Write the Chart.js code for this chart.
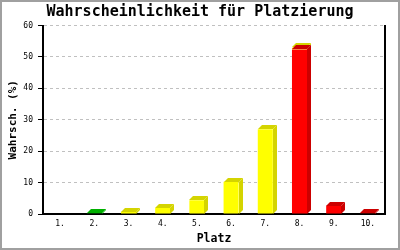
<!DOCTYPE html>
<html>
<head>
<meta charset="utf-8">
<script src="https://cdn.jsdelivr.net/npm/chart.js@4/dist/chart.umd.min.js"></script>
<style>
  body { margin: 0; background: #fff; }
</style>
</head>
<body>
<canvas id="chart" width="400" height="250"></canvas>
<script>
const platzLabels = ['1.', '2.', '3.', '4.', '5.', '6.', '7.', '8.', '9.', '10.'];
const wahrscheinlichkeit = [0, 0.2, 0.7, 1.9, 4.4, 10.3, 27.0, 52.4, 2.6, 0.2];
const aufsatz = [0, 0, 0, 0, 0, 0, 0, 0.6, 0, 0];
const barColors = ['#00cc00', '#00cc00', '#ffff00', '#ffff00', '#ffff00', '#ffff00', '#ffff00', '#ff0000', '#ff0000', '#ff0000'];
const sideColors = ['#00b000', '#00b000', '#d4d400', '#d4d400', '#d4d400', '#d4d400', '#d4d400', '#cc0000', '#cc0000', '#cc0000'];

const mono = '"DejaVu Sans Mono", "Liberation Mono", monospace';

// 3D look: right side and top face for every bar
const bars3d = {
    id: 'bars3d',
    afterDatasetDraw(chart, args) {
        const ctx = chart.ctx;
        const ds = chart.data.datasets[args.index];
        const dx = 4, dy = 4;
        args.meta.data.forEach((bar, i) => {
            if (!ds.data[i]) return;
            const p = bar.getProps(['x', 'y', 'base', 'width'], true);
            const l = Math.round(p.x - p.width / 2), r = Math.round(p.x + p.width / 2);
            const t = Math.round(p.y), b = Math.round(p.base);
            ctx.save();
            ctx.fillStyle = ds.sideColor[i];
            ctx.beginPath();
            ctx.moveTo(r, t);
            ctx.lineTo(r + dx, t - dy);
            ctx.lineTo(r + dx, b - dy);
            ctx.lineTo(r, b);
            ctx.closePath();
            ctx.fill();
            ctx.beginPath();
            ctx.moveTo(l, t);
            ctx.lineTo(l + dx, t - dy);
            ctx.lineTo(r + dx, t - dy);
            ctx.lineTo(r, t);
            ctx.closePath();
            ctx.fill();
            ctx.restore();
        });
    },
    afterDraw(chart) {
        const ctx = chart.ctx;
        ctx.save();
        ctx.strokeStyle = '#a0a0a0';
        ctx.lineWidth = 2;
        ctx.strokeRect(1, 1, chart.width - 2, chart.height - 2);
        ctx.restore();
    }
};

new Chart(document.getElementById('chart'), {
    type: 'bar',
    data: {
        labels: platzLabels,
        datasets: [{
            label: 'Wahrsch.',
            data: wahrscheinlichkeit,
            backgroundColor: barColors,
            sideColor: sideColors,
            categoryPercentage: 1,
            barPercentage: 0.44
        }, {
            label: 'Aufsatz',
            data: aufsatz,
            backgroundColor: '#ffff00',
            sideColor: platzLabels.map(() => '#d4d400'),
            categoryPercentage: 1,
            barPercentage: 0.44
        }]
    },
    options: {
        responsive: false,
        animation: false,
        devicePixelRatio: 1,
        layout: { padding: 0 },
        plugins: {
            legend: { display: false },
            tooltip: { enabled: false },
            title: {
                display: true,
                text: 'Wahrscheinlichkeit für Platzierung',
                color: '#000',
                font: { family: mono, size: 15, weight: 'bold' },
                padding: { top: 3, bottom: 4.5 }
            }
        },
        scales: {
            x: {
                stacked: true,
                grid: { display: false, drawTicks: false },
                border: { color: '#000', width: 2 },
                ticks: { color: '#000', font: { family: mono, size: 8 }, padding: 5 },
                title: {
                    display: true,
                    text: 'Platz',
                    color: '#000',
                    font: { family: mono, size: 11.5, weight: 'bold' },
                    padding: { top: 0, bottom: 4 }
                },
                afterFit: s => { s.height = 36; }
            },
            y: {
                stacked: true,
                min: 0,
                max: 60,
                ticks: { stepSize: 10, color: '#000', font: { family: mono, size: 8 }, padding: 5 },
                grid: {
                    color: ctx => ctx.tick && ctx.tick.value === 0 ? 'rgba(0,0,0,0)' : '#c0c0c0',
                    tickColor: '#000',
                    tickLength: 5,
                    tickWidth: 1
                },
                border: { color: '#000', width: 2, dash: [3, 3] },
                title: {
                    display: true,
                    text: 'Wahrsch. (%)',
                    color: '#000',
                    font: { family: mono, size: 11, weight: 'bold' },
                    padding: { top: 7, bottom: 0 }
                },
                afterFit: s => { s.width = 43; }
            },
            yRand: {
                position: 'right',
                min: 0,
                max: 60,
                grid: { display: false, drawTicks: false },
                ticks: { display: false },
                border: { color: '#000', width: 2 },
                afterFit: s => { s.width = 15; }
            }
        }
    },
    plugins: [bars3d]
});
</script>
</body>
</html>
